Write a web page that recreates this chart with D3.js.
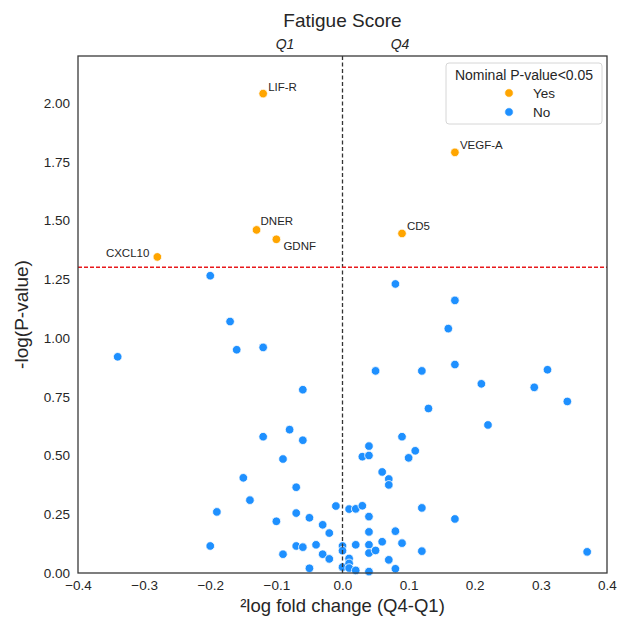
<!DOCTYPE html>
<html>
<head>
<meta charset="utf-8">
<script src="https://cdn.jsdelivr.net/npm/d3@7"></script>
<style>
  body { margin: 0; background: #fff; }
  text { font-family: "Liberation Sans", Arial, sans-serif; fill: #262626; }
</style>
</head>
<body>
<div id="chart"></div>
<script>
// proteins with nominal p < 0.05
var sigGenes = ["LIF-R", "VEGF-A", "DNER", "GDNF", "CXCL10", "CD5"];
var sigFC = [-0.12, 0.17, -0.13, -0.10, -0.28, 0.09];
var sigP = [2.04, 1.79, 1.46, 1.42, 1.345, 1.445];

// all other proteins
var nsFC = [-0.20, 0.08, -0.17, -0.16, -0.12, -0.34, -0.06, -0.08, -0.12, -0.06,
  -0.09, -0.15, -0.07, -0.14, -0.19, -0.07, -0.01, 0.01, -0.10, -0.05,
  -0.03, -0.02, -0.20, -0.07, -0.06, -0.04, -0.09, -0.03, -0.02, -0.05,
  0.00, 0.00, 0.00, 0.01, 0.01, 0.01, 0.22, 0.09, 0.04, 0.03,
  0.04, 0.11, 0.10, 0.06, 0.07, 0.07, 0.02, 0.03, 0.12, 0.04,
  0.17, 0.04, 0.08, 0.02, 0.04, 0.06, 0.09, 0.04, 0.05, 0.12,
  0.07, 0.37, 0.02, 0.04, 0.08, 0.17, 0.16, 0.05, 0.12, 0.17,
  0.31, 0.21, 0.29, 0.34, 0.13];
var nsP = [1.265, 1.23, 1.07, 0.95, 0.96, 0.92, 0.78, 0.61, 0.58, 0.565,
  0.485, 0.405, 0.365, 0.31, 0.26, 0.255, 0.285, 0.272, 0.22, 0.235,
  0.205, 0.17, 0.115, 0.115, 0.11, 0.12, 0.08, 0.08, 0.06, 0.02,
  0.115, 0.095, 0.025, 0.062, 0.041, 0.021, 0.63, 0.58, 0.54, 0.495,
  0.50, 0.52, 0.49, 0.43, 0.40, 0.375, 0.273, 0.286, 0.277, 0.24,
  0.23, 0.175, 0.178, 0.12, 0.12, 0.133, 0.127, 0.085, 0.096, 0.093,
  0.056, 0.09, 0.011, 0.006, 0.018, 1.16, 1.04, 0.86, 0.86, 0.887,
  0.865, 0.805, 0.79, 0.73, 0.70];

var xTicks = [-0.4, -0.3, -0.2, -0.1, 0.0, 0.1, 0.2, 0.3, 0.4];
var yTicks = [0, 0.25, 0.5, 0.75, 1.0, 1.25, 1.5, 1.75, 2.0];
var legendLabels = ["Yes", "No"];
var pThreshold = 1.301; // -log10(0.05)

var colors = {Yes: "#FFA500", No: "#1E90FF"};

var svgWidth = 617;
var svgHeight = 625;
var margin = {top: 56, right: 10, bottom: 52, left: 78};
var width = svgWidth - margin.left - margin.right;
var height = svgHeight - margin.top - margin.bottom;

var svg = d3.select("#chart")
  .append("svg")
  .attr("width", svgWidth)
  .attr("height", svgHeight);

var chartGroup = svg.append("g")
  .attr("transform", `translate(${margin.left}, ${margin.top})`);

var x = d3.scaleLinear().domain([-0.4, 0.4]).range([0, width]);
var y = d3.scaleLinear().domain([0, 2.2]).range([height, 0]);

// axes (no tick marks, seaborn "white" style)
var xAxis = chartGroup.append("g")
  .attr("transform", `translate(0, ${height})`)
  .call(d3.axisBottom(x).tickValues(xTicks).tickSize(0).tickPadding(7).tickFormat(d3.format(".1f")));
var yAxis = chartGroup.append("g")
  .call(d3.axisLeft(y).tickValues(yTicks).tickSize(0).tickPadding(8).tickFormat(d3.format(".2f")));
[xAxis, yAxis].forEach(function(g) {
  g.select(".domain").remove();
  g.selectAll("text")
    .attr("font-size", "13.5px")
    .attr("font-family", "Liberation Sans, Arial, sans-serif")
    .attr("fill", "#262626");
});

// points
var nsData = nsFC.map(function(d, i) { return {fc: d, p: nsP[i]}; });
var sigData = sigFC.map(function(d, i) { return {gene: sigGenes[i], fc: d, p: sigP[i]}; });

chartGroup.selectAll(".ns")
  .data(nsData)
  .enter()
  .append("circle")
  .attr("class", "ns")
  .attr("cx", d => x(d.fc))
  .attr("cy", d => y(d.p))
  .attr("r", 4.3)
  .attr("fill", colors.No)
  .attr("stroke", "#fff")
  .attr("stroke-width", 0.8);

chartGroup.selectAll(".sig")
  .data(sigData)
  .enter()
  .append("circle")
  .attr("class", "sig")
  .attr("cx", d => x(d.fc))
  .attr("cy", d => y(d.p))
  .attr("r", 4.3)
  .attr("fill", colors.Yes)
  .attr("stroke", "#fff")
  .attr("stroke-width", 0.8);

// reference lines
chartGroup.append("line")
  .attr("x1", x(0)).attr("x2", x(0))
  .attr("y1", 0).attr("y2", height)
  .attr("stroke", "#333")
  .attr("stroke-width", 1.3)
  .attr("stroke-dasharray", "4,2.5");
chartGroup.append("line")
  .attr("x1", 0).attr("x2", width)
  .attr("y1", y(pThreshold)).attr("y2", y(pThreshold))
  .attr("stroke", "#e8191c")
  .attr("stroke-width", 1.3)
  .attr("stroke-dasharray", "4,2");

// gene labels
var labelPlace = {
  "LIF-R": [5, -3, "start"],
  "VEGF-A": [5, -3, "start"],
  "DNER": [4, -5, "start"],
  "GDNF": [7, 11, "start"],
  "CXCL10": [-8, 0, "end"],
  "CD5": [5, -3, "start"]
};
chartGroup.selectAll(".geneLabel")
  .data(sigData)
  .enter()
  .append("text")
  .attr("class", "geneLabel")
  .attr("x", d => x(d.fc) + labelPlace[d.gene][0])
  .attr("y", d => y(d.p) + labelPlace[d.gene][1])
  .attr("text-anchor", d => labelPlace[d.gene][2])
  .attr("font-size", "11.5px")
  .text(d => d.gene);

// frame
chartGroup.append("rect")
  .attr("width", width)
  .attr("height", height)
  .attr("fill", "none")
  .attr("stroke", "#3a3a3a")
  .attr("stroke-width", 1.3);

// legend
var legend = chartGroup.append("g")
  .attr("transform", `translate(${width - 161}, 7)`);
legend.append("rect")
  .attr("width", 156)
  .attr("height", 61)
  .attr("rx", 3)
  .attr("fill", "#fff")
  .attr("fill-opacity", 0.8)
  .attr("stroke", "#d6d6d6");
legend.append("text")
  .attr("x", 78)
  .attr("y", 17)
  .attr("text-anchor", "middle")
  .attr("font-size", "14px")
  .text("Nominal P-value<0.05");
legendLabels.forEach(function(lab, i) {
  legend.append("circle")
    .attr("cx", 63)
    .attr("cy", 30 + i * 19)
    .attr("r", 4.3)
    .attr("fill", colors[lab])
    .attr("stroke", "#fff")
    .attr("stroke-width", 0.8);
  legend.append("text")
    .attr("x", 87)
    .attr("y", 35 + i * 19)
    .attr("font-size", "13.5px")
    .text(lab);
});

// titles and axis labels
svg.append("text")
  .attr("x", margin.left + width / 2)
  .attr("y", 27)
  .attr("text-anchor", "middle")
  .attr("font-size", "19px")
  .text("Fatigue Score");
svg.append("text")
  .attr("x", margin.left + x(-0.087))
  .attr("y", 49)
  .attr("text-anchor", "middle")
  .attr("font-size", "14px")
  .attr("font-style", "italic")
  .text("Q1");
svg.append("text")
  .attr("x", margin.left + x(0.087))
  .attr("y", 49)
  .attr("text-anchor", "middle")
  .attr("font-size", "14px")
  .attr("font-style", "italic")
  .text("Q4");
svg.append("text")
  .attr("x", margin.left + width / 2)
  .attr("y", 612)
  .attr("text-anchor", "middle")
  .attr("font-size", "18.5px")
  .text("\u00b2log fold change (Q4-Q1)");
svg.append("text")
  .attr("transform", `translate(28, ${margin.top + height / 2}) rotate(-90)`)
  .attr("text-anchor", "middle")
  .attr("font-size", "19px")
  .text("-log(P-value)");
</script>
</body>
</html>
